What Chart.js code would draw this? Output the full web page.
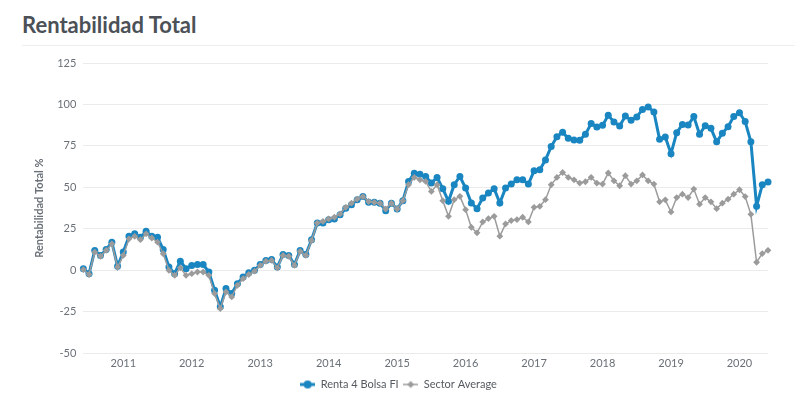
<!DOCTYPE html>
<html>
<head>
<meta charset="utf-8">
<script src="https://cdn.jsdelivr.net/npm/chart.js@4.4.0/dist/chart.umd.min.js"></script>
<style>
  body { margin: 0; background: #fff; font-family: Lato, "Open Sans", sans-serif; }
  h2 { position: absolute; left: 22px; top: 11px; margin: 0; font-size: 22px; font-weight: 700; color: #4b5157; }
  .rule { position: absolute; left: 22px; right: 0; top: 45px; border-top: 1px solid #eeeeee; }
  #wrap { position: absolute; left: 0; top: 46px; width: 795px; height: 360px; }
</style>
</head>
<body>
<h2>Rentabilidad Total</h2>
<div class="rule"></div>
<div id="wrap"><canvas id="myChart"></canvas></div>
<script>
// monthly series, Jun 2010 - Jun 2020
let startYear = 2010;
let startMonth = 6;

let renta4 = [
    1, -2, 12, 9, 12.5, 17, 2.5, 11, 20.5, 22, 20, 23.5, 20.5, 20, 12.5, 2, -2, 5.5, 1, 3,
    3.5, 3.5, -1, -12, -22, -11, -14, -8, -4, -1.5, 0, 3.5, 6, 6.5, 2, 9.5, 9, 3.5, 12, 9.5,
    18.5, 28.5, 28.5, 30.5, 31, 33.5, 37.5, 39.5, 42.5, 44.5, 41, 41, 40.5, 36, 40.5, 37, 42, 53.6, 58.6, 58,
    56.6, 52.6, 56, 49.2, 41.6, 51.6, 56.6, 49.6, 40.6, 37.2, 43.6, 46.6, 49.2, 40.6, 49.6, 52, 54.6, 54.6, 52, 60,
    60.6, 66.6, 74.6, 80.6, 83.2, 79.6, 78.6, 78.5, 82, 88.5, 86.4, 87.4, 93.5, 89.5, 87, 93, 90.5, 92.5, 97, 98.5,
    95.5, 79, 80.4, 70.3, 83, 88, 87.6, 92.7, 82, 87.2, 85.6, 77.5, 82.6, 86.6, 92.7, 95, 89.7, 77.5, 38.7, 51.6,
    53.2
];

let sectorAverage = [
    0.5, -2.5, 11, 8.5, 12, 16, 2, 9, 19, 20.5, 18.5, 22, 19.5, 17, 10, 0, -3, 1.5, -3, -2,
    -1, -1, -3, -14, -23, -13, -16, -9, -5, -2.5, -0.5, 3, 5.5, 6, 1.5, 9, 8.5, 3, 11.5, 9,
    18, 28.5, 29.5, 31, 32, 34, 38, 40.5, 43, 44.5, 41.5, 41, 40.5, 37, 40.5, 37, 42, 51.6, 56, 54.6,
    53.6, 47.6, 51.6, 42, 32.6, 42.6, 44.6, 36.6, 26, 22.6, 29.2, 31.2, 32.6, 20.6, 28, 30, 30.6, 32, 29.2, 38,
    38.6, 42.6, 51.6, 56, 59, 56, 54.6, 52.6, 53.4, 56.1, 52.6, 52, 58.7, 54, 51, 57.1, 52, 54, 57.5, 54,
    52, 41.3, 42.5, 35.2, 43.9, 45.9, 43.9, 49, 39.9, 43.9, 41.3, 37.2, 40.5, 42.9, 45.9, 48.6, 44.5, 33.8, 4.9, 10.1,
    12.1
];

let yTicks = [-50, -25, 0, 25, 50, 75, 100, 125];

let months = [];
for (let i = 0; i < renta4.length; i++) {
    let m = startMonth - 1 + i;
    let y = startYear + Math.floor(m / 12);
    let mm = (m % 12) + 1;
    months.push(y + '-' + (mm < 10 ? '0' + mm : mm));
}

let blue = '#1a86c1';
let grey = '#9b9b9b';

// little line+marker icons for the legend
function legendIcon(color, style, lw) {
    let c = document.createElement('canvas');
    c.width = 15;
    c.height = 10;
    let ctx = c.getContext('2d');
    ctx.strokeStyle = color;
    ctx.fillStyle = color;
    ctx.lineWidth = lw;
    ctx.beginPath();
    ctx.moveTo(0, 5);
    ctx.lineTo(15, 5);
    ctx.stroke();
    ctx.beginPath();
    if (style === 'circle') {
        ctx.arc(7.5, 5, 4, 0, Math.PI * 2);
    } else {
        ctx.moveTo(7.5, 1.5);
        ctx.lineTo(11, 5);
        ctx.lineTo(7.5, 8.5);
        ctx.lineTo(4, 5);
        ctx.closePath();
    }
    ctx.fill();
    return c;
}

let myChart = document.getElementById("myChart").getContext("2d");

let rentChart = new Chart(myChart, {
    type: "line",
    data: {
        labels: months,
        datasets: [{
                label: 'Renta 4 Bolsa FI',
                data: renta4,
                order: 1,
                borderColor: blue,
                backgroundColor: blue,
                borderWidth: 3,
                pointStyle: 'circle',
                pointRadius: 3.5,
                pointBorderWidth: 0,
                pointIcon: legendIcon(blue, 'circle', 3)
            },
            {
                label: 'Sector Average',
                data: sectorAverage,
                order: 0,
                borderColor: grey,
                backgroundColor: grey,
                borderWidth: 1.5,
                pointStyle: 'rectRot',
                pointRadius: 3.4,
                pointBorderWidth: 0,
                pointIcon: legendIcon(grey, 'diamond', 1.5)
            }
        ]
    },
    options: {
        responsive: true,
        maintainAspectRatio: false,
        animation: false,
        layout: {
            padding: { left: 29, right: 27, top: 17, bottom: 6 }
        },
        plugins: {
            legend: {
                display: true,
                position: 'bottom',
                labels: {
                    usePointStyle: true,
                    pointStyleWidth: 15,
                    color: '#555a60',
                    font: { family: 'Lato', size: 11 },
                    padding: 4.5,
                    generateLabels: function(chart) {
                        return chart.data.datasets.map(function(ds, i) {
                            return {
                                text: ds.label,
                                pointStyle: ds.pointIcon,
                                fillStyle: ds.borderColor,
                                strokeStyle: ds.borderColor,
                                lineWidth: 0,
                                fontColor: '#555a60',
                                datasetIndex: i
                            };
                        });
                    }
                }
            },
            tooltip: { enabled: false }
        },
        scales: {
            y: {
                min: -50,
                max: 125,
                afterBuildTicks: function(axis) {
                    axis.ticks = yTicks.map(function(v) { return { value: v }; });
                },
                title: {
                    display: true,
                    text: 'Rentabilidad Total %',
                    color: '#6a7077',
                    font: { family: 'Lato', size: 11, weight: 'bold' },
                    padding: { bottom: 4 }
                },
                ticks: {
                    color: '#6a7077',
                    font: { family: 'Lato', size: 11 },
                    padding: 7
                },
                grid: { color: '#ebebeb', drawTicks: false },
                border: { display: false }
            },
            x: {
                offset: false,
                ticks: {
                    autoSkip: false,
                    maxRotation: 0,
                    minRotation: 0,
                    color: '#6a7077',
                    font: { family: 'Lato', size: 11 },
                    padding: 4,
                    callback: function(value) {
                        let l = this.getLabelForValue(value);
                        return l.slice(5) === '01' ? l.slice(0, 4) : null;
                    }
                },
                grid: { display: false, drawTicks: false },
                border: { display: false }
            }
        }
    }
});
</script>
</body>
</html>
